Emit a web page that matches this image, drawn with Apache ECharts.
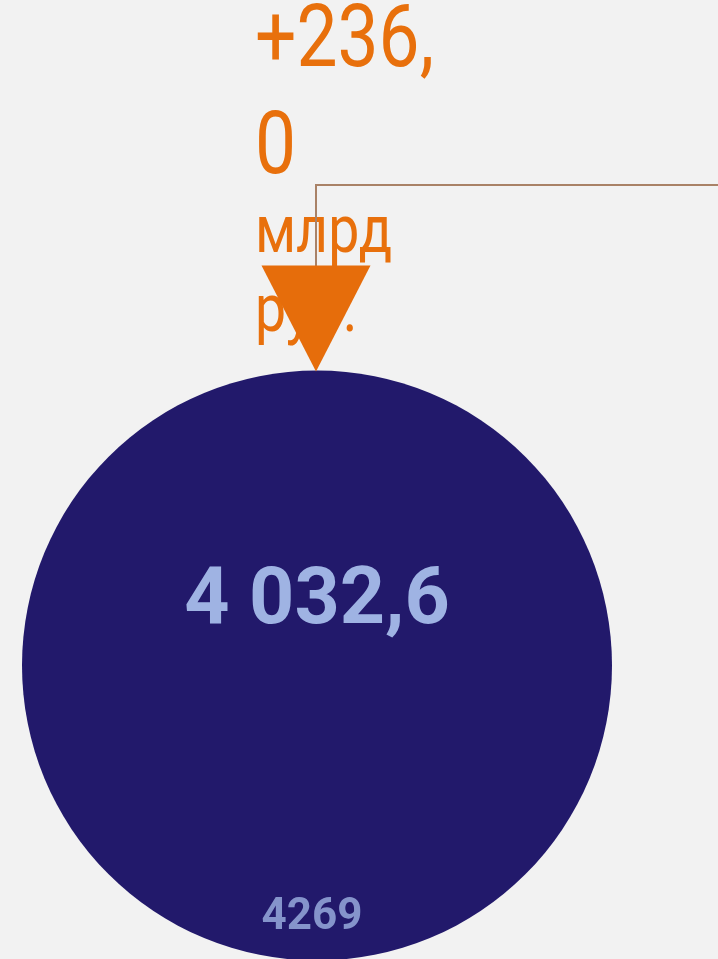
<!DOCTYPE html>
<html>
<head>
<meta charset="utf-8">
<script src="https://cdn.jsdelivr.net/npm/echarts@6/dist/echarts.min.js"></script>
<style>
  html, body { margin: 0; padding: 0; background: #f2f2f2; }
  #chart { width: 718px; height: 959px; }
</style>
</head>
<body>
<div id="chart"></div>
<script>
  // data
  var categories = [''];
  var currentValue = [4032.6];
  var previousValue = [4269];
  var deltaValue = [236.0];
  var deltaUnit = ['млрд', 'руб.'];

  function fmt(v) {
    // 4032.6 -> "4 032,6"
    var parts = v.toFixed(1).split('.');
    return parts[0].replace(/\B(?=(\d{3})+(?!\d))/g, ' ') + ',' + parts[1];
  }

  var deltaStr = (deltaValue[0] >= 0 ? '+' : '') + fmt(deltaValue[0]);
  // the narrow text box wraps the number before its last digit
  var deltaText = deltaStr.slice(0, -1) + '\n' + deltaStr.slice(-1);

  var chart = echarts.init(document.getElementById('chart'));
  var option = {
    backgroundColor: '#f2f2f2',
    animation: false,
    grid: { left: 22, top: 372, width: 590, height: 590 },
    xAxis: { type: 'category', data: categories, show: false },
    yAxis: { type: 'category', data: categories, show: false },
    graphic: [
      {
        type: 'text',
        x: 255, y: -9,
        scaleX: 0.84,
        z: 1,
        style: {
          text: deltaText,
          fill: '#e8700c',
          font: '87px Roboto',
          lineHeight: 107,
          verticalAlign: 'top'
        }
      },
      {
        type: 'text',
        x: 255, y: 196,
        scaleX: 0.84,
        z: 1,
        style: {
          text: deltaUnit.join('\n'),
          fill: '#e8700c',
          font: '66px Roboto',
          lineHeight: 79,
          verticalAlign: 'top'
        }
      },
      {
        type: 'polyline',
        z: 3,
        shape: { points: [[316, 268], [316, 185], [718, 185]] },
        style: { stroke: '#a98267', lineWidth: 2, fill: null }
      }
    ],
    series: [
      {
        type: 'scatter',
        z: 2,
        data: [[0, 0, currentValue[0]]],
        symbolSize: 590,
        itemStyle: { color: '#22196b', opacity: 1 },
        label: {
          show: true,
          position: 'inside',
          offset: [0, -62],
          formatter: function (p) { return fmt(p.value[2]); },
          fontFamily: 'Roboto',
          fontWeight: 'bold',
          fontSize: 79,
          color: '#9fb3e3'
        }
      },
      {
        type: 'scatter',
        z: 3,
        data: [[0, 0, previousValue[0]]],
        symbolSize: 0,
        label: {
          show: true,
          position: 'inside',
          offset: [-5, 252],
          formatter: function (p) { return String(p.value[2]); },
          fontFamily: 'Roboto',
          fontWeight: 'bold',
          fontSize: 44,
          color: '#9fb3e3'
        }
      },
      {
        type: 'scatter',
        z: 4,
        data: [[0, 0, deltaValue[0]]],
        symbol: 'triangle',
        symbolRotate: 180,
        symbolSize: [109, 106],
        symbolOffset: [-1, -347],
        itemStyle: { color: '#e66d0b', opacity: 1 }
      }
    ]
  };
  chart.setOption(option);
  window.addEventListener('resize', function () {
    chart.resize();
  });
</script>
</body>
</html>
